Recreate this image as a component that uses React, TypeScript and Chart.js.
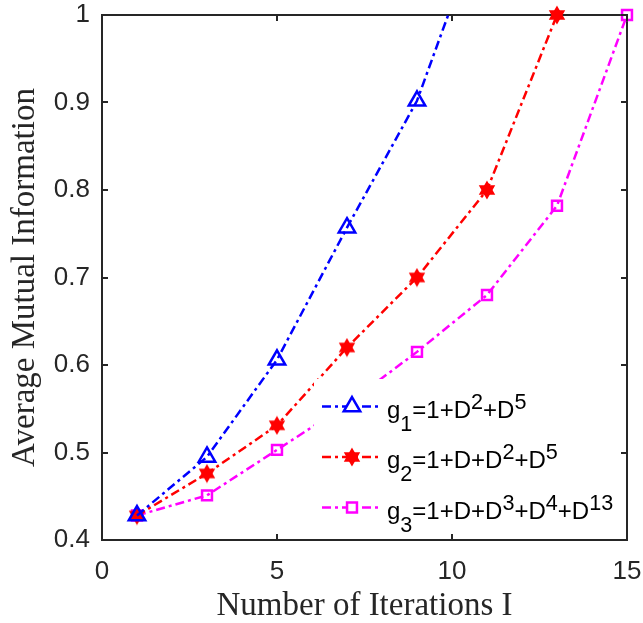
import React, { useEffect, useRef } from 'react';
import { Chart, registerables } from 'chart.js';
import { drawPoint } from 'chart.js/helpers';

Chart.register(...registerables);

// ---- data ----
const g1Iter = [1, 3, 5, 7, 9, 11];
const g1Values = [0.428, 0.495, 0.606, 0.757, 0.902, 1.122];
const g2Iter = [1, 3, 5, 7, 9, 11, 13];
const g2Values = [0.428, 0.476, 0.531, 0.620, 0.700, 0.800, 1.0];
const g3Iter = [1, 3, 5, 7, 9, 11, 13, 15];
const g3Values = [0.428, 0.451, 0.503, 0.555, 0.615, 0.680, 0.782, 1.0];

const xTickValues = [0, 5, 10, 15];
const xTickLabels = ['0', '5', '10', '15'];
const yTickValues = [0.4, 0.5, 0.6, 0.7, 0.8, 0.9, 1.0];
const yTickLabels = ['0.4', '0.5', '0.6', '0.7', '0.8', '0.9', '1'];

const seriesLabels = ['g_1=1+D^2+D^5', 'g_2=1+D+D^2+D^5', 'g_3=1+D+D^3+D^4+D^{13}'];
const seriesColors = ['#0000FF', '#FF0000', '#FF00FF'];
const xTitle = 'Number of Iterations I';
const yTitle = 'Average Mutual Information';

const AXIS = '#262626';
const SANS = '"Liberation Sans", Arial, Helvetica, sans-serif';
const SERIF = '"Liberation Serif", "Times New Roman", serif';
const DASH = [9, 4, 3, 4];

function makeHexagram(color: string, r: number): HTMLCanvasElement {
  const size = Math.ceil(r * 2 + 4);
  const c = document.createElement('canvas');
  c.width = size;
  c.height = size;
  const ctx = c.getContext('2d')!;
  const cx = size / 2;
  const cy = size / 2;
  ctx.fillStyle = color;
  ctx.strokeStyle = color;
  ctx.lineWidth = 1.5;
  for (const start of [-90, 90]) {
    ctx.beginPath();
    for (let k = 0; k < 3; k++) {
      const a = ((start + k * 120) * Math.PI) / 180;
      const px = cx + r * Math.cos(a);
      const py = cy + r * Math.sin(a);
      if (k === 0) ctx.moveTo(px, py);
      else ctx.lineTo(px, py);
    }
    ctx.closePath();
    ctx.fill();
    ctx.stroke();
  }
  return c;
}

type Part = { t: string; m: number };
function parseRich(s: string): Part[] {
  const parts: Part[] = [];
  let buf = '';
  let i = 0;
  while (i < s.length) {
    const c = s[i];
    if (c === '_' || c === '^') {
      if (buf) {
        parts.push({ t: buf, m: 0 });
        buf = '';
      }
      i++;
      let t: string;
      if (s[i] === '{') {
        const j = s.indexOf('}', i);
        t = s.slice(i + 1, j);
        i = j + 1;
      } else {
        t = s[i];
        i++;
      }
      parts.push({ t, m: c === '_' ? 1 : -1 });
    } else {
      buf += c;
      i++;
    }
  }
  if (buf) parts.push({ t: buf, m: 0 });
  return parts;
}

function drawRich(ctx: CanvasRenderingContext2D, s: string, x: number, baseline: number, size: number) {
  const parts = parseRich(s);
  let cx = x;
  ctx.textAlign = 'left';
  ctx.textBaseline = 'alphabetic';
  for (const p of parts) {
    const fs = p.m === 0 ? size : size * 0.9;
    ctx.font = `${fs}px ${SANS}`;
    const dy = p.m === 1 ? 13 : p.m === -1 ? -9 : 0;
    ctx.fillText(p.t, cx, baseline + dy);
    cx += ctx.measureText(p.t).width;
  }
}

export default function App() {
  const ref = useRef<HTMLCanvasElement | null>(null);

  useEffect(() => {
    if (!ref.current) return;
    const hex = makeHexagram('#FF0000', 8);
    const styles: any[] = ['triangle', hex, 'rect'];
    const radii = [9.5, 8, 7];

    const mk = (xs: number[], ys: number[]) => xs.map((x, i) => ({ x, y: ys[i] }));
    const datasets: any[] = [
      {
        label: seriesLabels[0],
        data: mk(g1Iter, g1Values),
        borderColor: seriesColors[0],
        pointBorderColor: seriesColors[0],
        pointBackgroundColor: 'rgba(0,0,0,0)',
        pointStyle: styles[0],
        pointRadius: radii[0],
        pointBorderWidth: 2.5,
        clip: { left: false, right: false, bottom: false, top: 0 },
      },
      {
        label: seriesLabels[1],
        data: mk(g2Iter, g2Values),
        borderColor: seriesColors[1],
        pointBorderColor: seriesColors[1],
        pointBackgroundColor: seriesColors[1],
        pointStyle: styles[1],
        pointRadius: radii[1],
        pointBorderWidth: 1,
        clip: false,
      },
      {
        label: seriesLabels[2],
        data: mk(g3Iter, g3Values),
        borderColor: seriesColors[2],
        pointBorderColor: seriesColors[2],
        pointBackgroundColor: 'rgba(0,0,0,0)',
        pointStyle: styles[2],
        pointRadius: radii[2],
        pointBorderWidth: 2.5,
        clip: false,
      },
    ].map((d) => ({
      ...d,
      borderWidth: 2.5,
      borderDash: DASH,
      tension: 0,
      fill: false,
      pointHoverRadius: d.pointRadius,
    }));

    const drawTicks = (chart: any) => {
      const { ctx, chartArea: a, scales } = chart;
      const tl = 6;
      ctx.save();
      ctx.strokeStyle = AXIS;
      ctx.lineWidth = 2;
      ctx.setLineDash([]);
      ctx.beginPath();
      for (const v of xTickValues) {
        const px = Math.round(scales.x.getPixelForValue(v));
        ctx.moveTo(px, a.bottom);
        ctx.lineTo(px, a.bottom - tl);
        ctx.moveTo(px, a.top);
        ctx.lineTo(px, a.top + tl);
      }
      for (const v of yTickValues) {
        const py = Math.round(scales.y.getPixelForValue(v));
        ctx.moveTo(a.left, py);
        ctx.lineTo(a.left + tl, py);
        ctx.moveTo(a.right, py);
        ctx.lineTo(a.right - tl, py);
      }
      ctx.stroke();
      ctx.restore();
    };

    const matlabPlugin = {
      id: 'matlabLook',
      beforeDatasetsDraw(chart: any) {
        const { ctx, chartArea: a } = chart;
        ctx.save();
        ctx.strokeStyle = AXIS;
        ctx.lineWidth = 2;
        ctx.strokeRect(a.left, a.top, a.right - a.left, a.bottom - a.top);
        ctx.restore();
        drawTicks(chart);
      },
      afterDatasetsDraw(chart: any) {
        const { ctx, chartArea: a } = chart;
        // legend background
        ctx.save();
        ctx.fillStyle = '#FFFFFF';
        ctx.fillRect(314, 379, a.right - 2 - 314, a.bottom - 2 - 379);
        ctx.restore();
        drawTicks(chart);
        const rows = [406.5, 457, 507.5];
        rows.forEach((ry, i) => {
          ctx.save();
          ctx.strokeStyle = seriesColors[i];
          ctx.lineWidth = 2.5;
          ctx.setLineDash(DASH);
          ctx.beginPath();
          ctx.moveTo(322, ry);
          ctx.lineTo(382, ry);
          ctx.stroke();
          ctx.setLineDash([]);
          ctx.strokeStyle = seriesColors[i];
          ctx.fillStyle = i === 1 ? seriesColors[i] : '#FFFFFF';
          ctx.lineWidth = i === 1 ? 1 : 2.5;
          drawPoint(ctx, { pointStyle: styles[i], radius: radii[i], rotation: 0, borderWidth: ctx.lineWidth } as any, 352, ry);
          ctx.restore();
          ctx.save();
          ctx.fillStyle = '#000000';
          drawRich(ctx, seriesLabels[i], 387, ry + 11, 24);
          ctx.restore();
        });
      },
      afterDraw(chart: any) {
        const { ctx, chartArea: a } = chart;
        ctx.save();
        ctx.fillStyle = AXIS;
        ctx.font = `33px ${SERIF}`;
        ctx.textAlign = 'center';
        ctx.textBaseline = 'alphabetic';
        ctx.fillText(xTitle, (a.left + a.right) / 2, 615);
        ctx.translate(34, (a.top + a.bottom) / 2);
        ctx.rotate(-Math.PI / 2);
        ctx.fillText(yTitle, 0, 0);
        ctx.restore();
      },
    };

    const zeroPad = (s: any) => {
      s.paddingTop = 0;
      s.paddingBottom = 0;
      s.paddingLeft = 0;
      s.paddingRight = 0;
    };

    const chart = new Chart(ref.current, {
      type: 'line',
      data: { datasets },
      options: {
        animation: false,
        responsive: false,
        devicePixelRatio: 1,
        events: [],
        layout: { padding: { top: 15, right: 16, left: 0, bottom: 0 } },
        scales: {
          x: {
            type: 'linear',
            min: 0,
            max: 15,
            afterBuildTicks: (s: any) => {
              s.ticks = xTickValues.map((v) => ({ value: v }));
            },
            afterFit: (s: any) => {
              s.height = 83;
              zeroPad(s);
            },
            grid: { display: false, drawTicks: false },
            border: { display: false },
            ticks: {
              color: AXIS,
              padding: 16,
              maxRotation: 0,
              font: { family: SANS, size: 26 },
              callback: (v: any) => xTickLabels[xTickValues.indexOf(Number(v))] ?? '',
            },
          },
          y: {
            type: 'linear',
            min: 0.4,
            max: 1.0,
            afterBuildTicks: (s: any) => {
              s.ticks = yTickValues.map((v) => ({ value: v }));
            },
            afterFit: (s: any) => {
              s.width = 102;
              zeroPad(s);
            },
            grid: { display: false, drawTicks: false },
            border: { display: false },
            ticks: {
              color: AXIS,
              padding: 12,
              font: { family: SANS, size: 26 },
              callback: (v: any) => {
                const idx = yTickValues.findIndex((t) => Math.abs(t - Number(v)) < 1e-9);
                return idx >= 0 ? yTickLabels[idx] : '';
              },
            },
          },
        },
        plugins: {
          legend: { display: false },
          tooltip: { enabled: false },
        },
      },
      plugins: [matlabPlugin],
    } as any);

    return () => chart.destroy();
  }, []);

  return (
    <div style={{ position: 'fixed', left: 0, top: 0, width: 643, height: 623, background: '#fff' }}>
      <canvas ref={ref} width={643} height={623} style={{ display: 'block', width: 643, height: 623 }} />
    </div>
  );
}
